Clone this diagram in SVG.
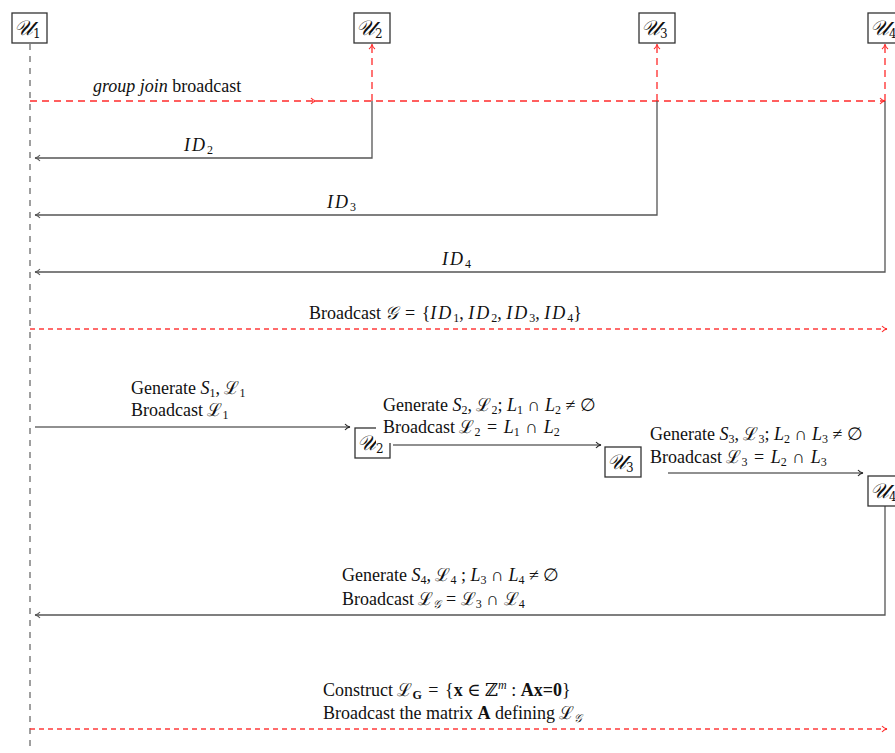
<svg xmlns="http://www.w3.org/2000/svg" width="895" height="753" viewBox="0 0 895 753">
  <style>
    .box { fill: #fff; stroke: #333; stroke-width: 1.3; }
    .lbl { font-family: "Liberation Serif", "DejaVu Serif", serif; font-size: 18px; fill: #111; }
    .nm { font-family: "DejaVu Serif", "Liberation Serif", serif; font-size: 21px; font-style: italic; fill: #111; }
    .it { font-style: italic; }
    .id { font-style: italic; letter-spacing: 2px; }
    .sb { font-size: 12px; font-style: normal; letter-spacing: 0; }
    .life { stroke: #777; stroke-width: 1.4; stroke-dasharray: 6 6; fill: none; }
    .red { stroke: #ff2a2a; stroke-width: 1.3; stroke-dasharray: 7 5; fill: none; }
    .red2 { stroke: #ff3b3b; stroke-width: 1.3; stroke-dasharray: 5 4; fill: none; }
    .gry { stroke: #555; stroke-width: 1.3; fill: none; }
    .blk { stroke: #222; stroke-width: 1.1; fill: none; }
    .mask { fill: #fff; }
  </style>
  <defs>
    <marker id="ahG" markerWidth="8" markerHeight="8" refX="6" refY="4" orient="auto" markerUnits="userSpaceOnUse">
      <path d="M1,1 Q3,3.5 6,4 Q3,4.5 1,7" fill="none" stroke="#555" stroke-width="1.1"/>
    </marker>
    <marker id="ahK" markerWidth="8" markerHeight="8" refX="6" refY="4" orient="auto" markerUnits="userSpaceOnUse">
      <path d="M1,1 Q3,3.5 6,4 Q3,4.5 1,7" fill="none" stroke="#222" stroke-width="1.1"/>
    </marker>
    <marker id="ahR" markerWidth="8" markerHeight="8" refX="6" refY="4" orient="auto" markerUnits="userSpaceOnUse">
      <path d="M1,1 Q3,3.5 6,4 Q3,4.5 1,7" fill="none" stroke="#ff2a2a" stroke-width="1.1"/>
    </marker>
  </defs>

  <rect width="895" height="753" fill="#fff"/>

  <!-- lifeline of the initiating user -->
  <g id="lifeline">
    <line class="life" x1="30" y1="44" x2="30" y2="750"/>
  </g>

  <!-- message connectors -->
  <g id="connectors">
    <!-- group join broadcast -->
    <line class="red" x1="30" y1="101" x2="316" y2="101" marker-end="url(#ahR)"/>
    <line class="red" x1="316" y1="101" x2="885" y2="101" marker-end="url(#ahR)"/>
    <line class="red" x1="372" y1="101" x2="372" y2="44" marker-end="url(#ahR)"/>
    <line class="red" x1="657" y1="101" x2="657" y2="44" marker-end="url(#ahR)"/>
    <line class="red" x1="885" y1="101" x2="885" y2="44" marker-end="url(#ahR)"/>
    <!-- identity replies -->
    <polyline class="gry" points="372,101 372,158 35,158" marker-end="url(#ahG)"/>
    <polyline class="gry" points="657,101 657,215 35,215" marker-end="url(#ahG)"/>
    <polyline class="gry" points="885,101 885,272 35,272" marker-end="url(#ahG)"/>
    <!-- group broadcast -->
    <line class="red2" x1="30" y1="329" x2="887" y2="329" marker-end="url(#ahR)"/>
    <!-- lattice chain -->
    <line class="blk" x1="35" y1="427" x2="350" y2="427" marker-end="url(#ahK)"/>
    <line class="blk" x1="393" y1="445" x2="601" y2="445" marker-end="url(#ahK)"/>
    <line class="blk" x1="668" y1="473" x2="863" y2="473" marker-end="url(#ahK)"/>
    <polyline class="gry" points="885,506 885,615 35,615" marker-end="url(#ahG)"/>
    <!-- final broadcast -->
    <line class="red2" x1="30" y1="729" x2="887" y2="729" marker-end="url(#ahR)"/>
  </g>

  <!-- participants -->
  <g id="U1">
    <rect class="box" x="12" y="13" width="35" height="30"/>
    <text class="nm" x="14" y="35">𝒰<tspan class="sb" dy="3">1</tspan></text>
  </g>
  <g id="U2">
    <rect class="box" x="354" y="13" width="36" height="30"/>
    <text class="nm" x="356" y="35">𝒰<tspan class="sb" dy="3">2</tspan></text>
  </g>
  <g id="U3">
    <rect class="box" x="639" y="13" width="36" height="30"/>
    <text class="nm" x="641" y="35">𝒰<tspan class="sb" dy="3">3</tspan></text>
  </g>
  <g id="U4">
    <rect class="box" x="868" y="13" width="36" height="30"/>
    <text class="nm" x="870" y="35">𝒰<tspan class="sb" dy="3">4</tspan></text>
  </g>

  <!-- chain participants -->
  <g id="U2-chain">
    <rect class="box" x="355" y="428" width="35" height="30"/>
    <text class="nm" x="357" y="450">𝒰<tspan class="sb" dy="3">2</tspan></text>
  </g>
  <g id="U3-chain">
    <rect class="box" x="605" y="447" width="36" height="30"/>
    <text class="nm" x="607" y="469">𝒰<tspan class="sb" dy="3">3</tspan></text>
  </g>
  <g id="U4-chain">
    <rect class="box" x="868" y="476" width="36" height="30"/>
    <text class="nm" x="870" y="498">𝒰<tspan class="sb" dy="3">4</tspan></text>
  </g>

  <!-- message labels -->
  <g id="labels">
    <text class="lbl" x="93" y="92"><tspan class="it">group join</tspan> broadcast</text>

    <text class="lbl id" x="184" y="151">ID<tspan class="sb" dy="3">2</tspan></text>
    <text class="lbl id" x="327" y="208">ID<tspan class="sb" dy="3">3</tspan></text>
    <text class="lbl id" x="442" y="265">ID<tspan class="sb" dy="3">4</tspan></text>

    <text class="lbl" x="309" y="319">Broadcast <tspan class="it">𝒢</tspan><tspan dx="2"> = </tspan><tspan dx="2">{</tspan><tspan class="id">ID</tspan><tspan class="sb" dy="3">1</tspan><tspan dy="-3">, </tspan><tspan class="id">ID</tspan><tspan class="sb" dy="3">2</tspan><tspan dy="-3">, </tspan><tspan class="id">ID</tspan><tspan class="sb" dy="3">3</tspan><tspan dy="-3">, </tspan><tspan class="id">ID</tspan><tspan class="sb" dy="3">4</tspan><tspan dy="-3">}</tspan></text>

    <text class="lbl" x="131" y="394">Generate <tspan class="it">S</tspan><tspan class="sb" dy="3">1</tspan><tspan dy="-3">, ℒ</tspan><tspan class="sb" dy="3">1</tspan></text>
    <text class="lbl" x="131" y="416">Broadcast ℒ<tspan class="sb" dy="3">1</tspan></text>

    <text class="lbl" x="383" y="411">Generate <tspan class="it">S</tspan><tspan class="sb" dy="3">2</tspan><tspan dy="-3">, ℒ</tspan><tspan class="sb" dy="3">2</tspan><tspan dy="-3">; </tspan><tspan class="it">L</tspan><tspan class="sb" dy="3">1</tspan><tspan dy="-3"> ∩ </tspan><tspan class="it">L</tspan><tspan class="sb" dy="3">2</tspan><tspan dy="-3"> ≠ ∅</tspan></text>
    <!-- label node backdrop partly covering the chain box outline -->
    <rect class="mask" x="376" y="418" width="200" height="25"/>
    <text class="lbl" x="383" y="433">Broadcast ℒ<tspan class="sb" dy="3">2</tspan><tspan dy="-3" dx="2"> = </tspan><tspan class="it" dx="2">L</tspan><tspan class="sb" dy="3">1</tspan><tspan dy="-3" dx="1"> ∩ </tspan><tspan class="it" dx="1">L</tspan><tspan class="sb" dy="3">2</tspan></text>

    <text class="lbl" x="650" y="440">Generate <tspan class="it">S</tspan><tspan class="sb" dy="3">3</tspan><tspan dy="-3">, ℒ</tspan><tspan class="sb" dy="3">3</tspan><tspan dy="-3">; </tspan><tspan class="it">L</tspan><tspan class="sb" dy="3">2</tspan><tspan dy="-3"> ∩ </tspan><tspan class="it">L</tspan><tspan class="sb" dy="3">3</tspan><tspan dy="-3"> ≠ ∅</tspan></text>
    <text class="lbl" x="650" y="463">Broadcast ℒ<tspan class="sb" dy="3">3</tspan><tspan dy="-3" dx="2"> = </tspan><tspan class="it" dx="2">L</tspan><tspan class="sb" dy="3">2</tspan><tspan dy="-3" dx="1"> ∩ </tspan><tspan class="it" dx="1">L</tspan><tspan class="sb" dy="3">3</tspan></text>

    <text class="lbl" x="342" y="581">Generate <tspan class="it">S</tspan><tspan class="sb" dy="3">4</tspan><tspan dy="-3">, ℒ</tspan><tspan class="sb" dy="3">4</tspan><tspan dy="-3"> ; </tspan><tspan class="it">L</tspan><tspan class="sb" dy="3">3</tspan><tspan dy="-3"> ∩ </tspan><tspan class="it">L</tspan><tspan class="sb" dy="3">4</tspan><tspan dy="-3"> ≠ ∅</tspan></text>
    <text class="lbl" x="342" y="605">Broadcast ℒ<tspan font-size="11" dy="3" class="it">𝒢</tspan><tspan dy="-3"> = ℒ</tspan><tspan class="sb" dy="3">3</tspan><tspan dy="-3"> ∩ ℒ</tspan><tspan class="sb" dy="3">4</tspan></text>

    <text class="lbl" x="323" y="696">Construct ℒ<tspan class="sb" dy="3" font-weight="bold">G</tspan><tspan dy="-3" dx="2"> = </tspan><tspan dx="2">{</tspan><tspan font-weight="bold">x</tspan> ∈ ℤ<tspan font-size="12" dy="-7" class="it">m</tspan><tspan dy="7"> : </tspan><tspan font-weight="bold">Ax=0</tspan>}</text>
    <text class="lbl" x="323" y="719">Broadcast the matrix <tspan font-weight="bold">A</tspan> defining ℒ<tspan font-size="11" dy="3" class="it">𝒢</tspan></text>
  </g>
</svg>
